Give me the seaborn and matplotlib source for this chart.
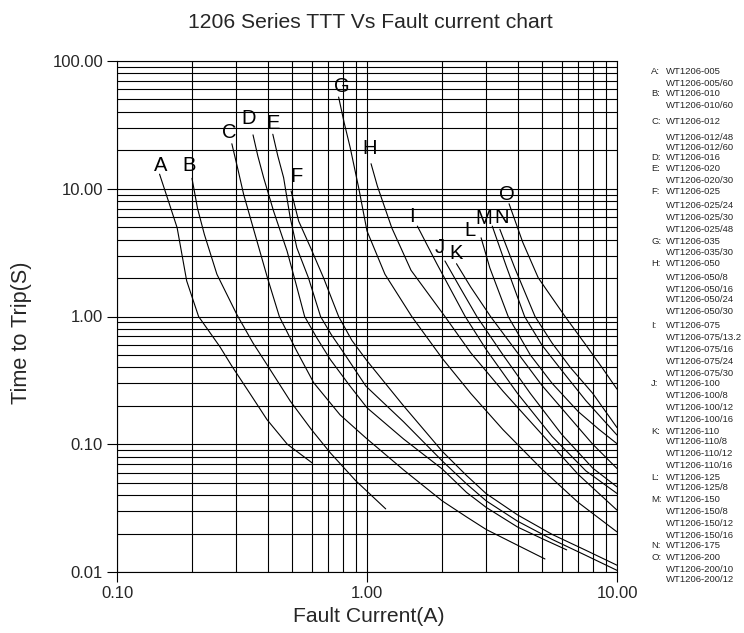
import numpy as np
import pandas as pd
import matplotlib
matplotlib.use("Agg")
import matplotlib.pyplot as plt
import seaborn as sns
from matplotlib.ticker import FixedLocator, NullFormatter, FuncFormatter

# ---------------- data ----------------
A_current = [0.148, 0.162, 0.174, 0.19, 0.212, 0.258, 0.288, 0.34, 0.398, 0.48, 0.603]
A_time = [13.0, 7.6, 4.95, 1.9, 1.0, 0.58, 0.409, 0.25, 0.156, 0.1, 0.0715]
B_current = [0.1995, 0.21, 0.2236, 0.251, 0.302, 0.35, 0.398, 0.493, 0.6, 0.713, 0.9, 1.188]
B_time = [12.06, 7.0, 4.39, 2.14, 1.03, 0.62, 0.42, 0.218, 0.13, 0.0857, 0.052, 0.0312]
C_current = [0.288, 0.305, 0.321, 0.363, 0.4, 0.446, 0.52, 0.612, 0.78, 0.99, 1.4, 2.0, 2.5, 3.0, 4.0, 5.15]
C_time = [22.5, 14.0, 9.04, 3.89, 2.0, 1.0, 0.55, 0.303, 0.17, 0.112, 0.063, 0.036, 0.027, 0.0215, 0.0162, 0.01265]
D_current = [0.35, 0.366, 0.386, 0.423, 0.479, 0.52, 0.563, 0.63, 0.713, 0.85, 1.0, 1.4, 2.0, 2.5, 3.0, 4.0, 5.0, 6.29]
D_time = [26.4, 18.0, 12.2, 6.68, 3.25, 1.8, 1.0, 0.68, 0.461, 0.29, 0.193, 0.11, 0.064, 0.042, 0.032, 0.0225, 0.0183, 0.0149]
E_current = [0.42, 0.44, 0.464, 0.493, 0.524, 0.583, 0.652, 0.72, 0.807, 0.99, 1.4, 2.0, 2.5, 3.0, 4.0, 5.5, 7.5, 10.0]
E_time = [26.7, 18.0, 12.2, 5.93, 3.45, 2.01, 1.0, 0.72, 0.52, 0.285, 0.15, 0.074, 0.049, 0.036, 0.025, 0.018, 0.0135, 0.0103]
F_current = [0.497, 0.533, 0.595, 0.67, 0.77, 0.87, 1.0, 1.4, 2.0, 2.5, 3.0, 4.0, 5.5, 7.5, 10.0]
F_time = [9.6, 5.58, 3.45, 2.01, 1.0, 0.65, 0.45, 0.2, 0.088, 0.057, 0.041, 0.028, 0.0197, 0.0148, 0.0113]
G_current = [0.77, 0.81, 0.857, 0.926, 1.0, 1.18, 1.51, 2.0, 2.6, 3.5, 5.0, 7.0, 10.0]
G_time = [52.2, 33.0, 20.9, 10.2, 4.67, 2.14, 1.0, 0.47, 0.25, 0.13, 0.064, 0.035, 0.0206]
H_current = [1.038, 1.1, 1.256, 1.5, 2.05, 2.6, 3.5, 5.0, 7.0, 10.0]
H_time = [15.7, 10.5, 4.95, 2.3, 1.0, 0.52, 0.26, 0.12, 0.058, 0.0305]
I_current = [1.59, 1.9, 2.47, 3.0, 4.0, 5.5, 7.5, 10.0]
I_time = [5.1, 2.6, 1.0, 0.55, 0.25, 0.115, 0.062, 0.0412]
J_current = [2.05, 2.35, 2.75, 3.5, 4.5, 6.0, 8.0, 10.0]
J_time = [2.72, 1.7, 1.0, 0.5, 0.25, 0.12, 0.065, 0.0464]
K_current = [2.28, 2.6, 3.12, 4.0, 5.0, 6.5, 8.0, 10.0]
K_time = [2.59, 1.7, 1.0, 0.52, 0.29, 0.16, 0.1, 0.0646]
L_current = [2.86, 3.1, 3.67, 4.5, 5.5, 7.0, 8.5, 10.0]
L_time = [4.13, 2.4, 1.0, 0.5, 0.3, 0.18, 0.13, 0.101]
M_current = [3.17, 3.6, 4.27, 5.0, 6.0, 7.5, 10.0]
M_time = [5.1, 2.5, 1.0, 0.6, 0.38, 0.22, 0.118]
N_current = [3.40, 3.9, 4.70, 5.5, 6.5, 8.0, 10.0]
N_time = [4.81, 2.4, 1.0, 0.62, 0.4, 0.25, 0.135]
O_current = [3.70, 4.2, 4.84, 5.5, 6.2, 7.5, 8.7, 10.0]
O_time = [7.63, 3.8, 2.01, 1.4, 1.0, 0.6, 0.4, 0.27]

curve_names = list("ABCDEFGHIJKLMNO")
label_current = [0.149, 0.195, 0.282, 0.336, 0.42, 0.52, 0.794, 1.028, 1.51, 1.96, 2.28, 2.58, 2.92, 3.47, 3.62]
label_time = [15.1, 15.1, 27.8, 35.3, 32.5, 12.4, 62.6, 20.7, 6.11, 3.45, 3.1, 4.72, 5.86, 5.93, 9.04]

legend_letters = ["A", "", "B", "", "C", "", "", "D", "E", "", "F", "", "", "",
                  "G", "", "H", "", "", "", "", "I", "", "", "", "",
                  "J", "", "", "", "K", "", "", "", "L", "", "M", "", "", "", "N", "O", "", ""]
legend_parts = ["WT1206-005", "WT1206-005/60", "WT1206-010", "WT1206-010/60",
                "WT1206-012", "WT1206-012/48", "WT1206-012/60", "WT1206-016",
                "WT1206-020", "WT1206-020/30", "WT1206-025", "WT1206-025/24",
                "WT1206-025/30", "WT1206-025/48", "WT1206-035", "WT1206-035/30",
                "WT1206-050", "WT1206-050/8", "WT1206-050/16", "WT1206-050/24",
                "WT1206-050/30", "WT1206-075", "WT1206-075/13.2", "WT1206-075/16",
                "WT1206-075/24", "WT1206-075/30", "WT1206-100", "WT1206-100/8",
                "WT1206-100/12", "WT1206-100/16", "WT1206-110", "WT1206-110/8",
                "WT1206-110/12", "WT1206-110/16", "WT1206-125", "WT1206-125/8",
                "WT1206-150", "WT1206-150/8", "WT1206-150/12", "WT1206-150/16",
                "WT1206-175", "WT1206-200", "WT1206-200/10", "WT1206-200/12"]

# legend text rows (pixel layout from the top of the figure)
legend_rows_px = [71, 83, 94, 105, 121, 137, 148, 158, 168, 180, 192, 205, 217, 229,
                  242, 253, 264, 277, 289, 300, 312, 326, 338, 349, 361, 373, 384,
                  396, 408, 419, 431, 442, 454, 466, 477, 488, 500, 512, 524, 536,
                  546, 558, 569, 580]

# ---------------- build long-form table ----------------
series = {
    "A": (A_current, A_time), "B": (B_current, B_time), "C": (C_current, C_time),
    "D": (D_current, D_time), "E": (E_current, E_time), "F": (F_current, F_time),
    "G": (G_current, G_time), "H": (H_current, H_time), "I": (I_current, I_time),
    "J": (J_current, J_time), "K": (K_current, K_time), "L": (L_current, L_time),
    "M": (M_current, M_time), "N": (N_current, N_time), "O": (O_current, O_time),
}
rows = []
for name in curve_names:
    cur, tim = series[name]
    for k, (c, t) in enumerate(zip(cur, tim)):
        rows.append({"curve": name, "order": k, "current": c, "time": t})
df = pd.DataFrame(rows)

# ---------------- figure ----------------
sns.set_theme(style="white")
plt.rcParams["font.family"] = ["Liberation Sans", "DejaVu Sans"]

W, H = 744, 633
fig = plt.figure(figsize=(W / 100, H / 100), dpi=100)
ax = fig.add_axes([117 / W, 1 - 572 / H, 500 / W, 511 / H])

sns.lineplot(data=df, x="current", y="time", units="curve", estimator=None,
             sort=False, color="black", linewidth=0.8, ax=ax, legend=False)

ax.set_xscale("log")
ax.set_yscale("log")
ax.set_xlim(0.1, 10)
ax.set_ylim(0.01, 100)

ax.xaxis.set_major_locator(FixedLocator([0.1, 1, 10]))
ax.yaxis.set_major_locator(FixedLocator([0.01, 0.1, 1, 10, 100]))
minors_x = [m * 10.0 ** e for e in (-1, 0) for m in range(2, 10)]
minors_y = [m * 10.0 ** e for e in (-2, -1, 0, 1) for m in range(2, 10)]
ax.xaxis.set_minor_locator(FixedLocator(minors_x))
ax.yaxis.set_minor_locator(FixedLocator(minors_y))
fmt = FuncFormatter(lambda v, p: f"{v:.2f}")
ax.xaxis.set_major_formatter(fmt)
ax.yaxis.set_major_formatter(fmt)
ax.xaxis.set_minor_formatter(NullFormatter())
ax.yaxis.set_minor_formatter(NullFormatter())

ax.grid(True, which="both", color="black", linewidth=0.8)
ax.tick_params(which="major", direction="out", length=7, width=0.8, color="black",
               labelsize=12, pad=3, bottom=True, left=True)
ax.tick_params(which="minor", length=0)
for s in ax.spines.values():
    s.set_color("black")
    s.set_linewidth(0.8)
ax.set_xlabel("")
ax.set_ylabel("")

for name, lc, lt in zip(curve_names, label_current, label_time):
    ax.text(lc, lt, name, fontsize=14.5, ha="center", va="center", color="black")

fig.text(370 / W, 1 - 22 / H, "1206 Series TTT Vs Fault current chart",
         fontsize=15.2, ha="center", va="center")
fig.text(369 / W, 1 - 617 / H, "Fault Current(A)", fontsize=15.2, ha="center", va="center")
fig.text(22 / W, 1 - 333 / H, "Time to Trip(S)", fontsize=15.6, ha="center", va="center",
         rotation=90)

for letter, part, ypx in zip(legend_letters, legend_parts, legend_rows_px):
    if letter:
        fig.text(651 / W, 1 - ypx / H, letter + ":", fontsize=6.8, ha="left",
                 va="center")
    fig.text(666 / W, 1 - ypx / H, part, fontsize=6.8, ha="left", va="center")

fig.savefig("out.png", dpi=100, facecolor="white")
